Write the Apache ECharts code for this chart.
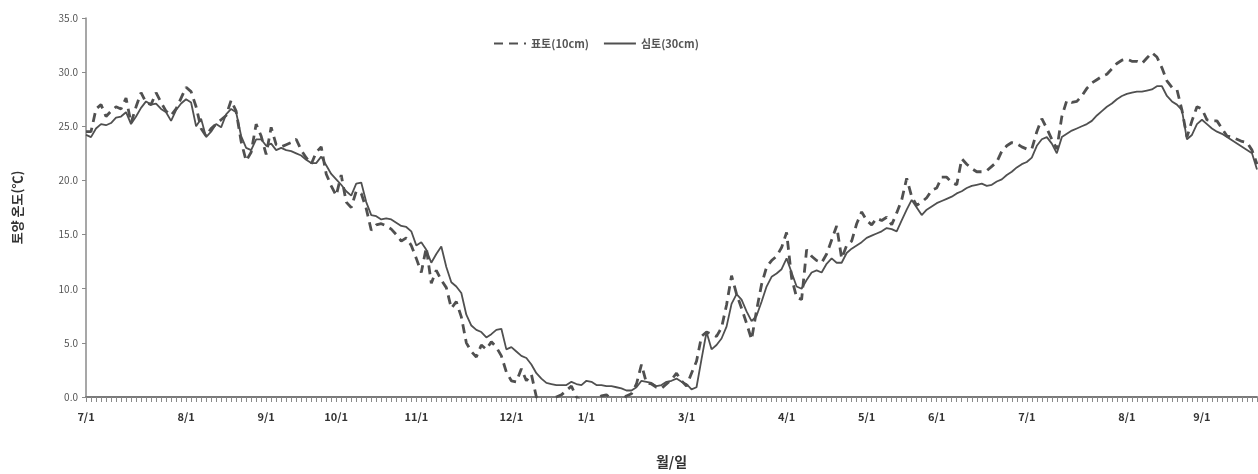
<!DOCTYPE html>
<html>
<head>
<meta charset="utf-8">
<script src="https://cdn.jsdelivr.net/npm/echarts@6/dist/echarts.min.js"></script>
<style>
  html, body { margin: 0; padding: 0; background: #fff; }
  #main { width: 1258px; height: 474px; }
</style>
</head>
<body>
<div id="main"></div>
<script>
// 월 시작 라벨과, 각 라벨에서 다음 라벨까지의 자료 점 개수
var monthLabels = ['7/1', '8/1', '9/1', '10/1', '11/1', '12/1', '1/1', '3/1', '4/1', '5/1', '6/1', '7/1', '8/1', '9/1'];
var monthSpan = [20, 16, 14, 16, 19, 15, 20, 20, 16, 14, 18, 20, 15, 12];

// 표토(10cm)
var surface = [
  24.5, 24.5, 26.6, 27.0, 25.9, 26.4, 26.8, 26.6, 27.6, 25.3, 26.8, 28.1, 27.2, 27.0, 28.1, 27.2, 26.4, 26.0, 26.6, 27.6,
  28.6, 28.2, 26.8, 24.8, 24.1, 24.8, 25.2, 25.6, 26.0, 27.4, 26.4, 23.6, 21.8, 22.6, 25.2, 24.1,
  22.4, 24.9, 23.3, 23.1, 23.3, 23.5, 23.8, 22.8, 22.1, 21.5, 22.6, 23.1, 20.6, 19.5,
  18.6, 20.5, 18.0, 17.5, 19.0, 18.8, 17.4, 15.4, 15.9, 16.0, 15.8, 15.5, 15.0, 14.4, 14.7, 14.0,
  12.8, 11.5, 13.8, 10.5, 11.7, 10.8, 10.1, 8.2, 8.8, 7.4, 5.0, 4.2, 3.7, 4.8, 4.4, 5.1, 4.6, 3.8, 2.3,
  1.5, 1.4, 2.6, 1.5, 2.1, 0.0, -0.3, -0.5, -0.3, 0.0, 0.2, 0.6, 1.0, 0.0, -0.4,
  -0.2, -0.5, -0.3, 0.1, 0.2, -0.2, -0.6, -0.3, 0.1, 0.3, 1.2, 3.0, 1.3, 1.2, 0.9, 0.8, 1.2, 1.6, 2.2, 1.5,
  1.0, 2.2, 3.3, 5.6, 6.0, 5.8, 5.6, 6.4, 8.5, 11.2, 9.5, 8.2, 6.8, 5.3, 8.0, 10.4, 12.0, 12.6, 13.0, 13.8,
  15.2, 11.0, 9.2, 9.0, 13.6, 13.0, 12.6, 12.4, 13.2, 14.5, 15.8, 12.8, 14.0, 14.4, 16.0, 17.1,
  16.3, 15.9, 16.5, 16.3, 16.6, 15.9, 17.0, 18.2, 20.2, 18.5, 17.7, 18.0, 18.4, 19.1,
  19.3, 20.3, 20.3, 19.8, 19.6, 22.0, 21.5, 21.1, 20.8, 20.8, 20.9, 21.3, 21.7, 22.7, 23.2, 23.5, 23.4, 23.1,
  22.9, 22.9, 24.5, 25.7, 24.8, 23.8, 22.9, 25.9, 27.4, 27.2, 27.3, 27.8, 28.5, 29.0, 29.3, 29.6, 29.8, 30.3, 30.8, 31.1,
  31.2, 31.0, 31.0, 30.8, 31.3, 31.8, 31.4, 30.4, 29.2, 28.6, 28.4, 26.5, 24.0, 25.5, 26.8,
  26.6, 25.6, 25.5, 25.5, 24.8, 24.1, 24.0, 23.8, 23.6, 23.5, 22.8, 21.5
];

// 심토(30cm)
var subsoil = [
  24.2, 24.0, 24.8, 25.2, 25.1, 25.3, 25.8, 25.9, 26.3, 25.2, 25.9, 26.7, 27.3, 27.0, 27.1, 26.6, 26.3, 25.5, 26.5, 27.1,
  27.5, 27.2, 25.0, 25.7, 24.0, 24.5, 25.2, 24.9, 26.1, 26.6, 26.3, 24.1, 23.0, 22.8, 23.8, 23.8,
  23.2, 23.4, 22.8, 23.0, 22.8, 22.7, 22.5, 22.3, 21.9, 21.6, 21.6, 22.2, 21.4, 20.6,
  20.1, 19.6, 19.0, 18.6, 19.7, 19.8, 18.0, 16.8, 16.7, 16.4, 16.5, 16.4, 16.1, 15.8, 15.7, 15.3,
  14.0, 14.3, 13.6, 12.4, 13.2, 13.9, 12.0, 10.6, 10.2, 9.6, 7.6, 6.6, 6.2, 6.0, 5.5, 5.8, 6.2, 6.3, 4.4,
  4.6, 4.2, 3.8, 3.6, 3.0, 2.2, 1.7, 1.3, 1.2, 1.1, 1.1, 1.1, 1.4, 1.2, 1.1,
  1.5, 1.4, 1.1, 1.1, 1.0, 1.0, 0.9, 0.8, 0.6, 0.6, 0.9, 1.5, 1.4, 1.3, 1.0, 1.1, 1.4, 1.5, 1.7, 1.4,
  1.2, 0.7, 0.9, 3.5, 6.0, 4.4, 4.8, 5.4, 6.5, 8.6, 9.5, 9.0, 7.9, 7.0, 7.5, 8.8, 10.2, 11.1, 11.4, 11.8,
  12.8, 11.5, 10.2, 10.0, 10.8, 11.5, 11.7, 11.5, 12.3, 12.8, 12.4, 12.4, 13.3, 13.7, 14.0, 14.3,
  14.7, 14.9, 15.1, 15.3, 15.6, 15.5, 15.3, 16.3, 17.3, 18.2, 17.5, 16.8, 17.3, 17.6,
  17.9, 18.1, 18.3, 18.5, 18.8, 19.0, 19.3, 19.5, 19.6, 19.7, 19.5, 19.6, 19.9, 20.1, 20.5, 20.8, 21.2, 21.5,
  21.7, 22.1, 23.2, 23.8, 24.0, 23.4, 22.5, 24.0, 24.3, 24.6, 24.8, 25.0, 25.2, 25.5, 26.0, 26.4, 26.8, 27.1, 27.5, 27.8,
  28.0, 28.1, 28.2, 28.2, 28.3, 28.4, 28.7, 28.7, 27.8, 27.3, 27.0, 26.5, 23.8, 24.2, 25.2,
  25.6, 25.2, 24.8, 24.5, 24.3, 24.0, 23.7, 23.4, 23.1, 22.8, 22.5, 21.0
];

var yTicks = { min: 0, max: 35, interval: 5 };

// 카테고리 축: 라벨 위치만 날짜, 나머지는 빈 문자열
var categories = [];
var labelIdx = {};
for (var s = 0; s < monthLabels.length; s++) {
  labelIdx[categories.length] = true;
  for (var k = 0; k < monthSpan[s]; k++) {
    categories.push(k === 0 ? monthLabels[s] : '');
  }
}

var font = 'Noto Sans CJK KR, sans-serif';
var lineColor = '#505050';

var chart = echarts.init(document.getElementById('main'));
var option = {
  animation: false,
  textStyle: { fontFamily: font },
  grid: { left: 86, right: 1, top: 18, bottom: 73, containLabel: false },
  legend: {
    left: 488,
    top: 33,
    itemWidth: 32,
    itemHeight: 10,
    itemGap: 14,
    itemStyle: { opacity: 0 },
    textStyle: { fontFamily: font, fontSize: 11, fontWeight: 'bold', color: '#555' },
    data: ['표토(10cm)', '심토(30cm)']
  },
  xAxis: {
    type: 'category',
    data: categories,
    boundaryGap: false,
    name: '월/일',
    nameLocation: 'middle',
    nameGap: 58,
    nameTextStyle: { fontFamily: font, fontSize: 14, fontWeight: 'bold', color: '#333' },
    axisLine: { lineStyle: { color: '#7a7a7a', width: 2 } },
    axisTick: { interval: 0, length: 5, lineStyle: { color: '#8a8a8a', width: 1 } },
    axisLabel: {
      interval: function (idx) { return !!labelIdx[idx]; },
      margin: 14,
      fontSize: 11,
      fontWeight: 'bold',
      color: '#333'
    },
    splitLine: { show: false }
  },
  yAxis: {
    type: 'value',
    min: yTicks.min,
    max: yTicks.max,
    interval: yTicks.interval,
    name: '토양 온도(℃)',
    nameLocation: 'middle',
    nameRotate: 90,
    nameGap: 62,
    nameTextStyle: { fontFamily: font, fontSize: 13, fontWeight: 'bold', color: '#333' },
    axisLine: { show: true, lineStyle: { color: '#8a8a8a', width: 1.5 } },
    axisTick: { show: true, length: 4, lineStyle: { color: '#8a8a8a' } },
    axisLabel: {
      margin: 8,
      fontSize: 10,
      color: '#555',
      formatter: function (v) { return v.toFixed(1); }
    },
    splitLine: { show: false }
  },
  series: [
    {
      name: '표토(10cm)',
      type: 'line',
      data: surface,
      symbol: 'none',
      clip: true,
      lineStyle: { color: lineColor, width: 2.8, type: [9, 6] },
      itemStyle: { color: lineColor }
    },
    {
      name: '심토(30cm)',
      type: 'line',
      data: subsoil,
      symbol: 'none',
      clip: true,
      lineStyle: { color: lineColor, width: 1.8 },
      itemStyle: { color: lineColor }
    }
  ]
};
chart.setOption(option);
</script>
</body>
</html>
